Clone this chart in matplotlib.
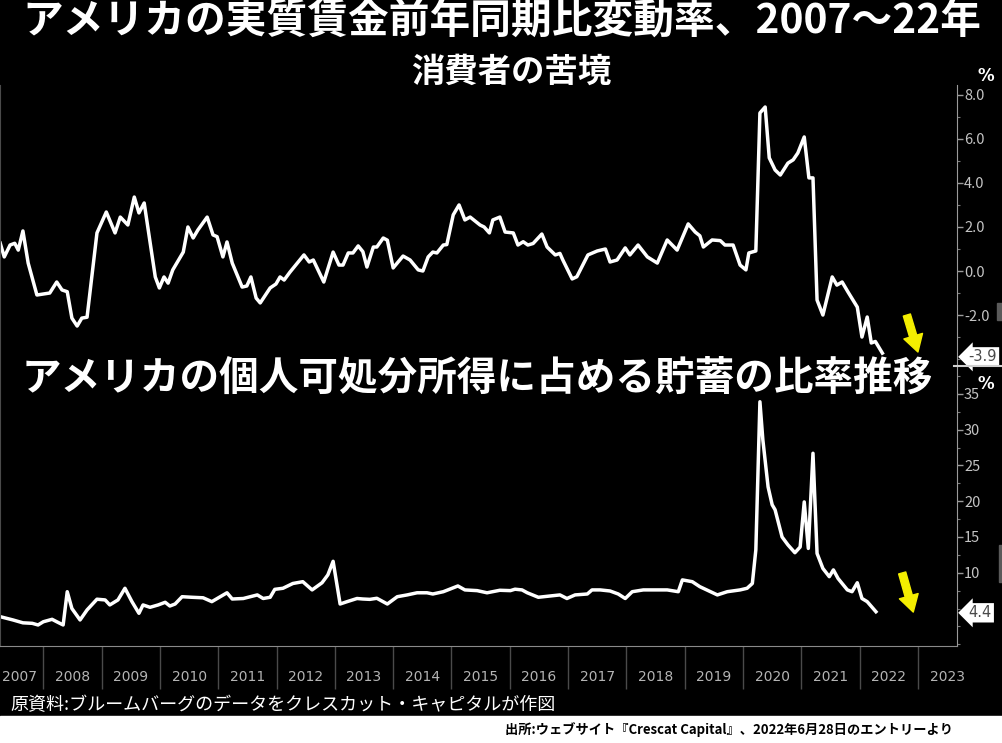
import matplotlib.pyplot as plt
import matplotlib.ticker as mticker
from matplotlib.patches import Rectangle

plt.rcParams['font.family'] = ['Noto Sans CJK JP', 'DejaVu Sans']

W, H = 1003, 743

wage_t = [2007.26, 2007.33, 2007.43, 2007.51, 2007.57, 2007.65, 2007.74, 2007.89,
          2008.11, 2008.23, 2008.32, 2008.41, 2008.49, 2008.58, 2008.66, 2008.75,
          2008.92, 2009.08, 2009.23, 2009.32, 2009.45, 2009.56, 2009.64, 2009.73,
          2009.80, 2009.92, 2009.99, 2010.07, 2010.14, 2010.22, 2010.40, 2010.48,
          2010.57, 2010.65, 2010.81, 2010.91, 2010.98, 2011.08, 2011.15, 2011.24,
          2011.41, 2011.49, 2011.56, 2011.65, 2011.72, 2011.89, 2011.99, 2012.06,
          2012.13, 2012.23, 2012.47, 2012.56, 2012.63, 2012.81, 2012.97, 2013.07,
          2013.14, 2013.23, 2013.31, 2013.40, 2013.48, 2013.55, 2013.66, 2013.72,
          2013.83, 2013.90, 2014.00, 2014.17, 2014.29, 2014.43, 2014.51, 2014.60,
          2014.68, 2014.75, 2014.86, 2014.92, 2015.03, 2015.13, 2015.23, 2015.32,
          2015.49, 2015.56, 2015.65, 2015.71, 2015.83, 2015.92, 2016.06, 2016.14,
          2016.23, 2016.31, 2016.40, 2016.55, 2016.64, 2016.78, 2016.86, 2016.91,
          2017.07, 2017.15, 2017.34, 2017.50, 2017.64, 2017.72, 2017.84, 2017.98,
          2018.06, 2018.20, 2018.36, 2018.53, 2018.70, 2018.87, 2019.06, 2019.18,
          2019.26, 2019.32, 2019.47, 2019.61, 2019.69, 2019.83, 2019.95, 2020.05,
          2020.10, 2020.22, 2020.29, 2020.38, 2020.45, 2020.55, 2020.64, 2020.77,
          2020.86, 2020.94, 2021.05, 2021.13, 2021.20, 2021.27, 2021.37, 2021.53,
          2021.61, 2021.70, 2021.80, 2021.96, 2022.04, 2022.13, 2022.20, 2022.27,
          2022.39]
wage_v = [1.27, 0.64, 1.18, 1.26, 0.95, 1.82, 0.36, -1.09,
          -1.0, -0.5, -0.86, -0.94, -2.14, -2.5, -2.14, -2.1,
          1.73, 2.68, 1.73, 2.45, 2.09, 3.36, 2.64, 3.09,
          1.86, -0.27, -0.77, -0.27, -0.55, 0.05, 0.86, 2.0,
          1.5, 1.86, 2.45, 1.64, 1.56, 0.64, 1.32, 0.36,
          -0.73, -0.68, -0.27, -1.23, -1.45, -0.77, -0.59, -0.27,
          -0.41, -0.05, 0.73, 0.41, 0.5, -0.5, 0.86, 0.27,
          0.27, 0.82, 0.82, 1.14, 0.88, 0.18, 1.09, 1.09,
          1.5, 1.4, 0.14, 0.68, 0.5, 0.05, 0.0, 0.64,
          0.86, 0.82, 1.18, 1.2, 2.55, 3.0, 2.32, 2.45,
          2.09, 2.0, 1.73, 2.32, 2.45, 1.77, 1.73, 1.18,
          1.33, 1.18, 1.25, 1.68, 1.09, 0.73, 0.8, 0.5,
          -0.36, -0.26, 0.73, 0.91, 1.0, 0.41, 0.5, 1.05,
          0.73, 1.18, 0.64, 0.36, 1.41, 0.95, 2.14, 1.77,
          1.6, 1.09, 1.41, 1.38, 1.18, 1.18, 0.27, 0.05,
          0.82, 0.91, 7.18, 7.45, 5.14, 4.59, 4.36, 4.9,
          5.05, 5.36, 6.09, 4.23, 4.23, -1.32, -2.0, -0.27,
          -0.64, -0.5, -0.95, -1.64, -3.0, -2.09, -3.27, -3.2,
          -3.73]
wage_last = -3.9

# US personal saving rate (% of disposable income)
save_t = [2007.26, 2007.48, 2007.65, 2007.81, 2007.91, 2008.00, 2008.15, 2008.23,
          2008.34, 2008.41, 2008.49, 2008.63, 2008.75, 2008.92, 2009.06, 2009.14,
          2009.28, 2009.40, 2009.52, 2009.64, 2009.71, 2009.83, 2009.97, 2010.09,
          2010.17, 2010.26, 2010.38, 2010.55, 2010.74, 2010.89, 2011.15, 2011.24,
          2011.43, 2011.67, 2011.77, 2011.89, 2011.97, 2012.11, 2012.28, 2012.45,
          2012.61, 2012.78, 2012.88, 2012.97, 2013.09, 2013.21, 2013.38, 2013.48,
          2013.60, 2013.72, 2013.90, 2014.07, 2014.24, 2014.41, 2014.58, 2014.68,
          2014.86, 2015.11, 2015.23, 2015.44, 2015.61, 2015.83, 2016.01, 2016.09,
          2016.21, 2016.30, 2016.49, 2016.69, 2016.86, 2016.98, 2017.12, 2017.33,
          2017.41, 2017.55, 2017.72, 2017.86, 2017.98, 2018.10, 2018.29, 2018.53,
          2018.70, 2018.89, 2018.96, 2019.13, 2019.26, 2019.56, 2019.73, 2019.95,
          2020.07, 2020.16, 2020.22, 2020.29, 2020.34, 2020.43, 2020.50, 2020.55,
          2020.67, 2020.77, 2020.89, 2020.98, 2021.05, 2021.12, 2021.20, 2021.27,
          2021.37, 2021.48, 2021.55, 2021.63, 2021.79, 2021.87, 2021.96, 2022.04,
          2022.13, 2022.28]
save_v = [3.86, 3.4, 3.0, 2.93, 2.7, 3.15, 3.49, 3.15,
          2.7, 7.35, 5.0, 3.4, 4.8, 6.3, 6.2, 5.5,
          6.2, 7.83, 5.96, 4.33, 5.5, 5.17, 5.5, 5.87,
          5.35, 5.63, 6.65, 6.57, 6.5, 5.96, 7.2, 6.33,
          6.4, 6.9, 6.4, 6.57, 7.68, 7.83, 8.5, 8.75,
          7.6, 8.6, 9.7, 11.6, 5.63, 5.96, 6.4, 6.33,
          6.28, 6.43, 5.63, 6.65, 6.9, 7.2, 7.2, 7.03,
          7.35, 8.15, 7.6, 7.5, 7.2, 7.55, 7.5, 7.7,
          7.6, 7.2, 6.57, 6.75, 6.9, 6.4, 6.9, 7.03,
          7.6, 7.6, 7.45, 7.03, 6.4, 7.35, 7.6, 7.6,
          7.6, 7.35, 9.0, 8.75, 8.05, 6.9, 7.35, 7.6,
          7.83, 8.5, 13.2, 33.9, 28.6, 22.0, 19.5, 18.8,
          15.0, 13.9, 12.8, 13.6, 19.9, 13.4, 26.7, 12.7,
          10.6, 9.45, 10.4, 9.2, 7.6, 7.35, 8.6, 6.4,
          5.96, 4.55]
save_last = 4.4

years = list(range(2007, 2024))
wage_ticks = [-2, 0, 2, 4, 6, 8]
save_ticks = [10, 15, 20, 25, 30, 35]

title = 'アメリカの実質賃金前年同期比変動率、2007～22年'
subtitle = '消費者の苦境'
title2 = 'アメリカの個人可処分所得に占める貯蓄の比率推移'
caption = '原資料:ブルームバーグのデータをクレスカット・キャピタルが作図'
source = '出所:ウェブサイト『Crescat Capital』、2022年6月28日のエントリーより'

X0, X1 = 2007.257, 2023.67
YELLOW = '#f4ee00'
ARROW = 'simple,head_width=1.0,head_length=0.85,tail_width=0.38'


def fx(px):
    return px / W


def fy(py):
    return 1 - py / H


def style_axis(ax, ylim):
    ax.set_facecolor('black')
    ax.set_xlim(X0, X1)
    ax.set_ylim(*ylim)
    ax.spines['top'].set_visible(False)
    ax.spines['bottom'].set_visible(False)
    ax.spines['left'].set_color('#4a4a4a')
    ax.spines['right'].set_color('#9a9a9a')
    ax.yaxis.tick_right()
    ax.tick_params(axis='y', which='major', colors='#9a9a9a', labelcolor='#c4c4c4',
                   labelsize=10.5, length=4, width=1, pad=1)
    ax.tick_params(axis='y', which='minor', colors='#7a7a7a', length=2.5, width=0.8)
    ax.set_xticks([])


def value_tag(ax, value, text):
    ax.text(1.012, value, text, transform=ax.get_yaxis_transform(), ha='left', va='center',
            fontsize=10.5, color='#4a4a4a', family='DejaVu Sans', clip_on=False,
            bbox=dict(boxstyle='larrow,pad=0.15', fc='white', ec='none'))


def main():
    fig = plt.figure(figsize=(W / 100, H / 100), dpi=100, facecolor='black')

    # top panel: real wages
    ax1 = fig.add_axes([0, fy(365), fx(957), (365 - 85) / H])
    style_axis(ax1, (-4.27, 8.45))
    ax1.plot(wage_t, wage_v, color='white', lw=2.5, solid_joinstyle='round')
    ax1.set_yticks(wage_ticks)
    ax1.yaxis.set_major_formatter(mticker.FuncFormatter(lambda v, _: f'{v:.1f}'))
    ax1.yaxis.set_minor_locator(mticker.MultipleLocator(1))
    value_tag(ax1, wage_last, f'{wage_last:.1f}')
    ax1.annotate('', xy=(2023.0, -3.68), xytext=(2022.81, -2.0),
                 arrowprops=dict(arrowstyle=ARROW, color=YELLOW, mutation_scale=14,
                                 shrinkA=0, shrinkB=0))

    # bottom panel: saving rate
    ax2 = fig.add_axes([0, fy(646), fx(957), (646 - 366) / H])
    style_axis(ax2, (-0.24, 38.9))
    ax2.spines['bottom'].set_visible(True)
    ax2.spines['bottom'].set_color('#8a8a8a')
    ax2.plot(save_t, save_v, color='white', lw=2.5, solid_joinstyle='round')
    ax2.set_yticks(save_ticks)
    ax2.yaxis.set_major_formatter(mticker.FuncFormatter(lambda v, _: f'{v:.0f}'))
    ax2.yaxis.set_minor_locator(mticker.MultipleLocator(2.5))
    value_tag(ax2, save_last, f'{save_last:.1f}')
    ax2.annotate('', xy=(2022.92, 4.5), xytext=(2022.73, 9.97),
                 arrowprops=dict(arrowstyle=ARROW, color=YELLOW, mutation_scale=14,
                                 shrinkA=0, shrinkB=0))

    # year dividers and labels (first label nudged so it is not cut by the edge)
    ax2.set_xticks(years[1:])
    ax2.set_xticks([max(y + 0.5, X0 + 0.33) for y in years], minor=True)
    ax2.set_xticklabels([str(y) for y in years], minor=True)
    ax2.tick_params(axis='x', which='major', colors='#4a4a4a', length=31, width=1,
                    labelbottom=False)
    ax2.tick_params(axis='x', which='minor', length=0, pad=17, labelsize=10,
                    labelcolor='#b4b4b4')
    for lab in ax2.get_xticklabels(minor=True):
        lab.set_family('DejaVu Sans')

    # right-hand decorations
    fig.text(fx(986), fy(76), '%', color='white', fontsize=12, fontweight='bold',
             ha='center', va='center', family='DejaVu Sans')
    fig.text(fx(986), fy(384), '%', color='white', fontsize=12, fontweight='bold',
             ha='center', va='center', family='DejaVu Sans')
    fig.add_artist(plt.Line2D([fx(954), 1], [fy(366), fy(366)], color='#d0d0d0', lw=1.5))
    fig.add_artist(Rectangle((fx(997), fy(320)), fx(6), 17 / H, color='#5a5a5a'))
    fig.add_artist(Rectangle((fx(999), fy(582)), fx(4), 37 / H, color='#5a5a5a'))

    # headings
    fig.text(fx(22), fy(22), title, color='white', fontsize=29.3, fontweight='bold',
             ha='left', va='center')
    fig.text(fx(511), fy(72), subtitle, color='white', fontsize=24, fontweight='bold',
             ha='center', va='center')
    fig.text(fx(22), fy(378), title2, color='white', fontsize=28.5, fontweight='bold',
             ha='left', va='center')

    # footer
    fig.text(fx(10), fy(705), caption, color='white', fontsize=13, ha='left', va='center')
    fig.add_artist(Rectangle((0, 0), 1, fy(716), color='white'))
    fig.text(fx(953), fy(730), source, color='black', fontsize=9.5, fontweight='bold',
             ha='right', va='center')

    fig.savefig('out.png', dpi=100, facecolor='black')


if __name__ == '__main__':
    main()
